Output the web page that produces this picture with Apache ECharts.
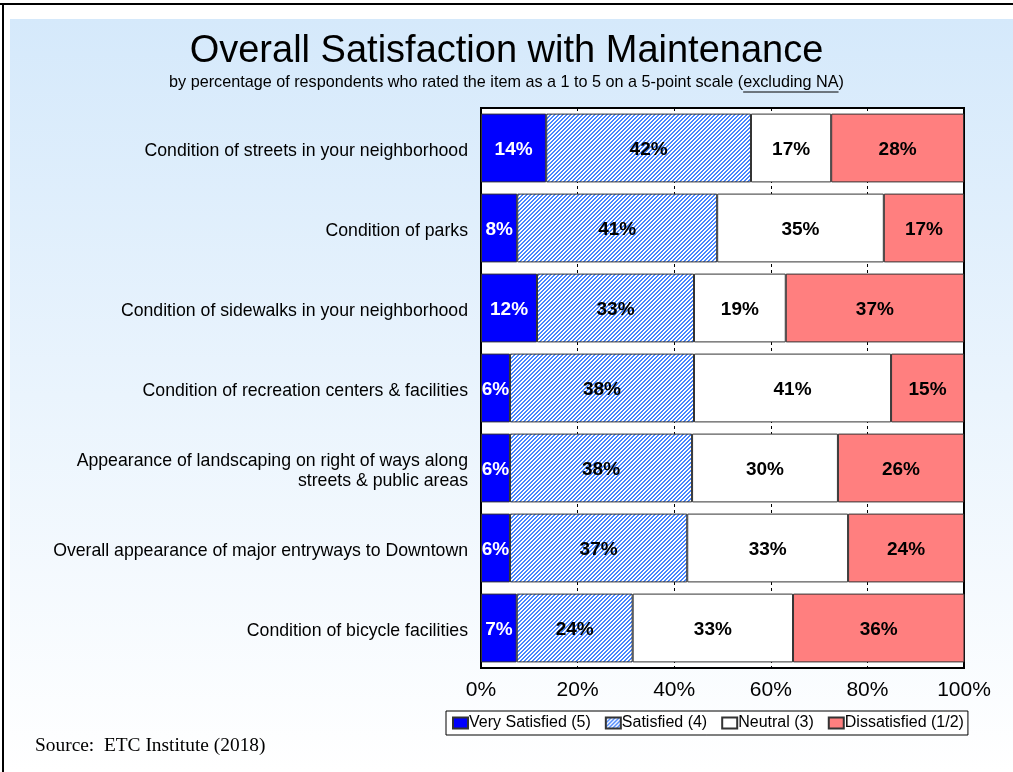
<!DOCTYPE html>
<html>
<head>
<meta charset="utf-8">
<script src="https://cdn.jsdelivr.net/npm/echarts@6/dist/echarts.min.js"></script>
<style>
  html, body { margin: 0; padding: 0; background: #fff; }
  #chart { width: 1013px; height: 772px; }
</style>
</head>
<body>
<div id="chart"></div>
<script>
var categories = [
    'Condition of streets in your neighborhood',
    'Condition of parks',
    'Condition of sidewalks in your neighborhood',
    'Condition of recreation centers & facilities',
    'Appearance of landscaping on right of ways along\nstreets & public areas',
    'Overall appearance of major entryways to Downtown',
    'Condition of bicycle facilities'
];
var verySatisfied = [13.5, 7.5, 11.6, 6.0, 6.0, 6.0, 7.4];
var satisfied     = [42.4, 41.4, 32.5, 38.1, 37.7, 36.7, 24.0];
var neutral       = [16.6, 34.5, 19.0, 40.8, 30.2, 33.3, 33.2];
var dissatisfied  = [27.5, 16.6, 36.9, 15.1, 26.1, 24.0, 35.5];
var tickLabels = ['0%', '20%', '40%', '60%', '80%', '100%'];
var seriesNames = ['Very Satisfied (5)', 'Satisfied (4)', 'Neutral (3)', 'Dissatisfied (1/2)'];

var subPre = 'by percentage of respondents who rated the item as a 1 to 5 on a 5-point scale (';
var subUnder = 'excluding NA';
var subPost = ')';
var subFont = '16.2px "Liberation Sans", Arial, sans-serif';

// hatch pattern for "Satisfied" (diagonal blue stripes on white)
function makeHatch() {
    var c = document.createElement('canvas');
    c.width = 4; c.height = 4;
    var ctx = c.getContext('2d');
    var img = ctx.createImageData(4, 4);
    for (var y = 0; y < 4; y++) {
        for (var x = 0; x < 4; x++) {
            var i = (y * 4 + x) * 4;
            var blue = ((x + y) % 4) < 2;
            img.data[i] = blue ? 0x48 : 255;
            img.data[i + 1] = blue ? 0x86 : 255;
            img.data[i + 2] = 255;
            img.data[i + 3] = 255;
        }
    }
    ctx.putImageData(img, 0, 0);
    return c;
}

// where the underline of "excluding NA" goes
function underlineSpan() {
    var ctx = document.createElement('canvas').getContext('2d');
    ctx.font = subFont;
    var total = ctx.measureText(subPre + subUnder + subPost).width;
    var start = 1013 / 2 - total / 2 + ctx.measureText(subPre).width;
    return [start, start + ctx.measureText(subUnder).width];
}
var ul = underlineSpan();

var myChart = echarts.init(document.getElementById('chart'));

function pctLabel(color) {
    return {
        show: true,
        position: 'inside',
        offset: [0, 2],
        color: color,
        fontFamily: 'Liberation Sans, Arial, sans-serif',
        fontWeight: 'bold',
        fontSize: 19,
        formatter: function (p) { return Math.round(p.value) + '%'; }
    };
}

function makeSeries(name, data, color, textColor) {
    return {
        name: name,
        type: 'bar',
        stack: 'total',
        data: data,
        barCategoryGap: '14%',
        itemStyle: { color: color, borderColor: '#333', borderWidth: 1 },
        label: pctLabel(textColor),
        emphasis: { disabled: true }
    };
}

var option = {
    animation: false,
    textStyle: { fontFamily: 'Liberation Sans, Arial, sans-serif' },
    graphic: [
        {
            type: 'rect', z: -10,
            shape: { x: 10, y: 19, width: 1003, height: 753 },
            style: {
                fill: new echarts.graphic.LinearGradient(0, 0, 0, 1, [
                    { offset: 0, color: '#d5e9fb' },
                    { offset: 1, color: '#ffffff' }
                ])
            }
        },
        { type: 'line', shape: { x1: 0, y1: 4, x2: 1013, y2: 4 }, style: { stroke: '#000', lineWidth: 2 } },
        { type: 'line', shape: { x1: 3, y1: 4, x2: 3, y2: 772 }, style: { stroke: '#000', lineWidth: 2 } },
        {
            type: 'text', left: 'center', top: 33,
            style: { text: 'Overall Satisfaction with Maintenance', fontSize: 38, fill: '#000', fontFamily: 'Liberation Sans, Arial, sans-serif' }
        },
        {
            type: 'text', left: 'center', top: 75,
            style: { text: subPre + subUnder + subPost, font: subFont, fill: '#000' }
        },
        { type: 'line', shape: { x1: ul[0], y1: 92, x2: ul[1], y2: 92 }, style: { stroke: '#000', lineWidth: 1 } },
        {
            type: 'text', left: 35, top: 736,
            style: { text: 'Source:  ETC Institute (2018)', fontSize: 19.4, fill: '#000', fontFamily: 'Liberation Serif, Times New Roman, serif' }
        }
    ],
    legend: {
        data: seriesNames,
        left: 446,
        top: 711,
        orient: 'horizontal',
        icon: 'rect',
        backgroundColor: '#fff',
        borderColor: '#000',
        borderWidth: 1,
        padding: [4, 4, 4, 6],
        itemGap: 14,
        itemWidth: 15,
        itemHeight: 11,
        selectedMode: false,
        textStyle: { fontSize: 16, color: '#000', padding: [0, 0, 0, -4] }
    },
    grid: {
        left: 481, right: 49, top: 108, bottom: 104,
        show: true, backgroundColor: '#fff', borderColor: '#000', borderWidth: 2
    },
    xAxis: {
        type: 'value',
        min: 0, max: 100, interval: 20,
        axisLine: { show: false },
        axisTick: { show: false },
        splitLine: { show: true, lineStyle: { color: '#000', type: [3, 3], width: 1 } },
        axisLabel: {
            fontSize: 21, color: '#000', margin: 12,
            formatter: function (v) { return tickLabels[v / 20]; }
        }
    },
    yAxis: {
        type: 'category',
        inverse: true,
        data: categories,
        axisLine: { show: false },
        axisTick: { show: false },
        axisLabel: {
            fontSize: 17.7, color: '#000', margin: 13, align: 'right', lineHeight: 20,
            // small empty line on top nudges the labels down a little
            formatter: function (v) { return '{sp|}\n' + v; },
            rich: { sp: { height: 6, lineHeight: 6 } }
        }
    },
    series: [
        makeSeries(seriesNames[0], verySatisfied, '#0000ff', '#fff'),
        makeSeries(seriesNames[1], satisfied, { image: makeHatch(), repeat: 'repeat' }, '#000'),
        makeSeries(seriesNames[2], neutral, '#ffffff', '#000'),
        makeSeries(seriesNames[3], dissatisfied, '#ff7f7f', '#000')
    ]
};
myChart.setOption(option);
</script>
</body>
</html>
